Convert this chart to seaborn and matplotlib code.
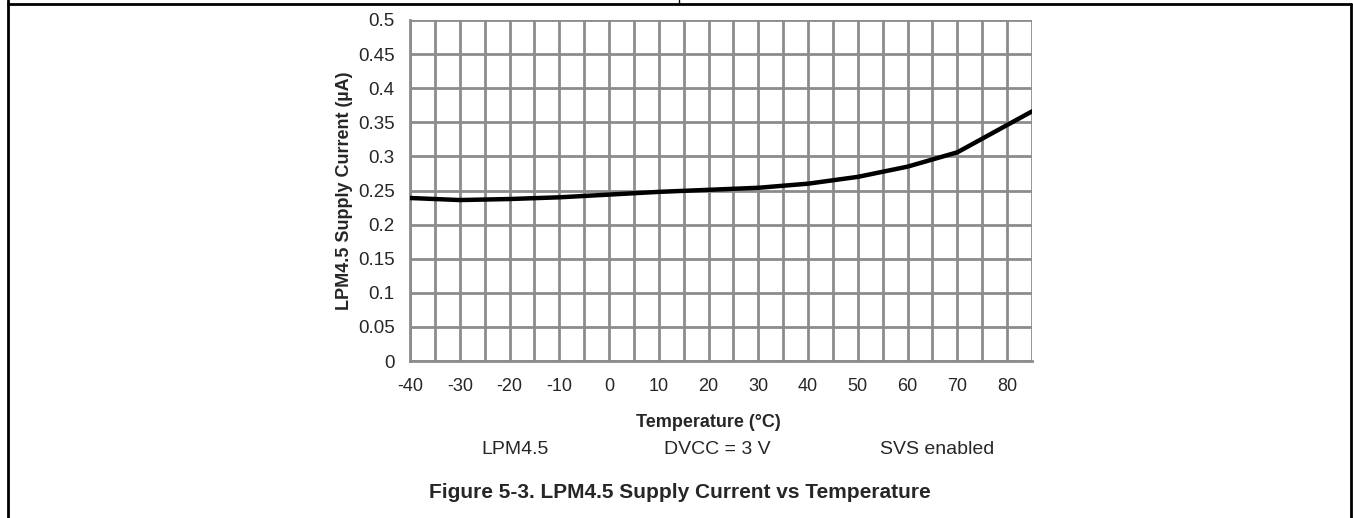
import matplotlib
matplotlib.use('Agg')
import matplotlib.pyplot as plt
import seaborn as sns
import pandas as pd
from matplotlib.lines import Line2D
from matplotlib.ticker import MultipleLocator

# values
temperature = [-40, -30, -20, -10, 0, 10, 20, 30, 40, 50, 60, 70, 85]
current = [0.239, 0.236, 0.2375, 0.240, 0.244, 0.248, 0.251, 0.254, 0.260, 0.270, 0.285, 0.306, 0.366]

xTicks = [-40, -30, -20, -10, 0, 10, 20, 30, 40, 50, 60, 70, 80]
yTicks = [0, 0.05, 0.1, 0.15, 0.2, 0.25, 0.3, 0.35, 0.4, 0.45, 0.5]
yTickLabels = ['0', '0.05', '0.1', '0.15', '0.2', '0.25', '0.3', '0.35', '0.4', '0.45', '0.5']
conditions = ['LPM4.5', 'DVCC = 3 V', 'SVS enabled']

sns.set_style('white')
plt.rcParams['font.family'] = ['Liberation Sans', 'DejaVu Sans']

df = pd.DataFrame({'temp': temperature, 'current': current})

W, H = 1353, 518
fig = plt.figure(figsize=(W / 100, H / 100), dpi=100)
ax = fig.add_axes([410 / W, 1 - 361 / H, (1032 - 410) / W, (361 - 20) / H])

grid = '#8c8c8c'
sns.lineplot(data=df, x='temp', y='current', color='black', linewidth=3.2, ax=ax, zorder=3)

ax.set_xlim(-40, 85)
ax.set_ylim(0, 0.5)
ax.set_xticks(xTicks)
ax.set_xticklabels([str(t) for t in xTicks])
ax.xaxis.set_minor_locator(MultipleLocator(5))
ax.set_yticks(yTicks)
ax.set_yticklabels(yTickLabels)
ax.grid(True, which='both', axis='x', color=grid, linewidth=2)
ax.grid(True, which='major', axis='y', color=grid, linewidth=2)
ax.tick_params(axis='both', which='both', direction='out', length=6, width=2, color=grid, pad=6)
ax.tick_params(axis='y', which='major', pad=5)
ax.tick_params(axis='x', which='major', labelsize=13)
ax.tick_params(axis='y', which='major', labelsize=13.5)
ax.tick_params(axis='x', which='minor', labelbottom=False)
for side in ['top', 'right']:
    ax.spines[side].set_visible(False)
for side in ['left', 'bottom']:
    ax.spines[side].set_color(grid)
    ax.spines[side].set_linewidth(2)

ax.set_xlabel('Temperature (°C)', fontsize=13, fontweight='bold')
ax.set_ylabel('LPM4.5 Supply Current (µA)', fontsize=13, fontweight='bold')
ax.xaxis.set_label_coords((708 - 410) / 622, (361 - 414) / 341)
ax.yaxis.set_label_coords((353 - 410) / 622, 0.5)

for text, xc in zip(conditions, [515, 717, 937]):
    fig.text(xc / W, 1 - 449 / H, text, ha='center', va='center', fontsize=14)
fig.text(680 / W, 1 - 492 / H, 'Figure 5-3. LPM4.5 Supply Current vs Temperature',
         ha='center', va='center', fontsize=15, fontweight='bold')

# table frame around the figure
frame = dict(color='black', linewidth=2, transform=fig.transFigure)
fig.lines.append(Line2D([8 / W, 1351 / W], [1 - 4 / H, 1 - 4 / H], **frame))
fig.lines.append(Line2D([8 / W, 8 / W], [0, 1], **frame))
fig.lines.append(Line2D([1351 / W, 1351 / W], [0, 1 - 4 / H], **frame))
fig.lines.append(Line2D([679 / W, 679 / W], [1, 1 - 4 / H], color='black', linewidth=1,
                        transform=fig.transFigure))

fig.savefig('out.png', dpi=100)
